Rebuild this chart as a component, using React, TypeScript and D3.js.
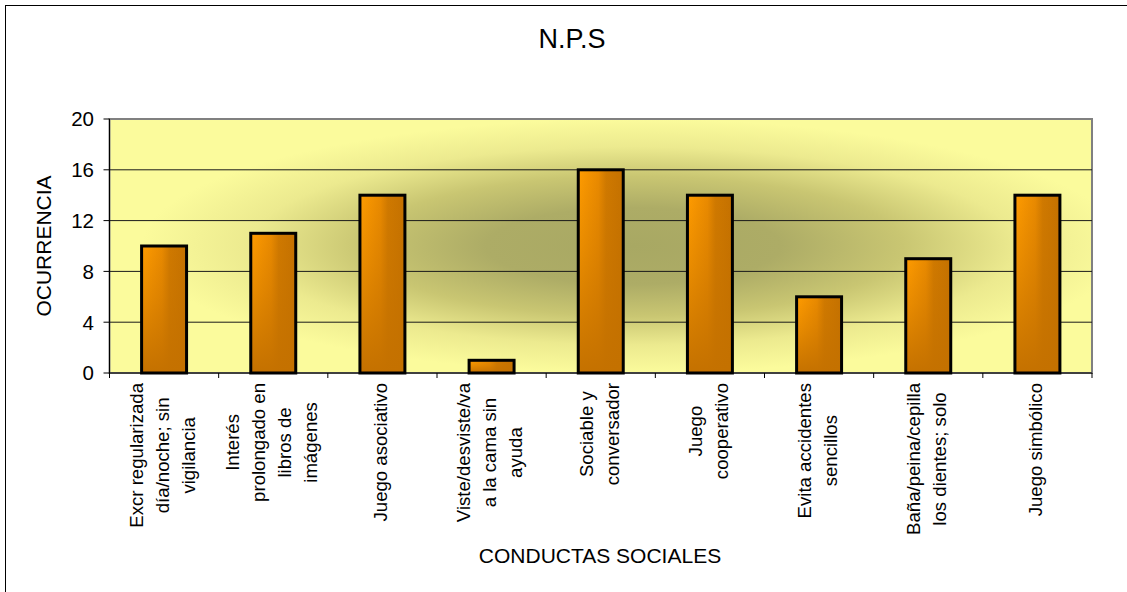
import React, { useMemo } from 'react';
import * as d3 from 'd3';

const title = 'N.P.S';
const yTitle = 'OCURRENCIA';
const xTitle = 'CONDUCTAS SOCIALES';

const categories = [
  ['Excr regularizada', 'día/noche; sin', 'vigilancia'],
  ['Interés', 'prolongado en', 'libros de', 'imágenes'],
  ['Juego asociativo'],
  ['Viste/desviste/va', 'a la cama sin', 'ayuda'],
  ['Sociable y', 'conversador'],
  ['Juego', 'cooperativo'],
  ['Evita accidentes', 'sencillos'],
  ['Baña/peina/cepilla', 'los dientes; solo'],
  ['Juego simbólico'],
];
const values = [10, 11, 14, 1, 16, 14, 6, 9, 14];
const yTicks = [0, 4, 8, 12, 16, 20];

const W = 1127;
const H = 592;
const plot = { left: 109.5, right: 1092, top: 119, bottom: 373 };
const font = "'Liberation Sans', Arial, sans-serif";
const catFont = 18.6;
const lineGap = 26;

export default function App() {
  const x = d3
    .scaleBand<number>()
    .domain(d3.range(values.length))
    .range([plot.left, plot.right])
    .paddingInner(0.588)
    .paddingOuter(0.294);
  const y = d3.scaleLinear().domain([0, 20]).range([plot.bottom, plot.top]);
  const step = x.step();

  // widest line of each label, so the block starts just under the axis
  const widths = useMemo(() => {
    const ctx = document.createElement('canvas').getContext('2d');
    return categories.map((lines) => {
      if (!ctx) return 140;
      ctx.font = `${catFont}px ${font}`;
      return d3.max(lines, (l) => ctx.measureText(l).width) || 0;
    });
  }, []);

  return (
    <svg
      width={W}
      height={H}
      style={{ position: 'absolute', left: 0, top: 0, background: '#fff' }}
      fontFamily={font}
    >
      <defs>
        <radialGradient id="bg" cx="0.533" cy="0.5" r="0.5" fx="0.533" fy="0.5">
          <stop offset="0" stopColor="#a8a863" />
          <stop offset="0.3" stopColor="#adac66" />
          <stop offset="0.55" stopColor="#c9c672" />
          <stop offset="0.78" stopColor="#ecea8f" />
          <stop offset="1" stopColor="#fbfb9c" />
        </radialGradient>
        <linearGradient id="barH" x1="0" y1="0" x2="1" y2="0">
          <stop offset="0" stopColor="#ff9c00" />
          <stop offset="0.45" stopColor="#e98a00" />
          <stop offset="0.62" stopColor="#cf7900" />
          <stop offset="1" stopColor="#c47100" />
        </linearGradient>
        <linearGradient id="barV" x1="0" y1="0" x2="0" y2="1">
          <stop offset="0" stopColor="#c47100" stopOpacity="0" />
          <stop offset="0.4" stopColor="#c47100" stopOpacity="0.35" />
          <stop offset="1" stopColor="#c47100" stopOpacity="1" />
        </linearGradient>
      </defs>

      <rect x={5.5} y={5.5} width={1140} height={600} fill="#fff" stroke="#000" strokeWidth={1} />

      <text x={572} y={48} textAnchor="middle" fontSize={27}>
        {title}
      </text>

      <rect
        x={plot.left}
        y={plot.top}
        width={plot.right - plot.left}
        height={plot.bottom - plot.top}
        fill="url(#bg)"
        stroke="#808080"
        strokeWidth={2}
      />

      {yTicks
        .filter((t) => t > 0 && t < 20)
        .map((t) => (
          <line key={t} x1={plot.left} x2={plot.right} y1={y(t)} y2={y(t)} stroke="#1a1a1a" strokeWidth={1} />
        ))}

      {values.map((v, i) => {
        const bx = x(i)!;
        const by = y(v);
        const bh = y(0) - by;
        return (
          <g key={i}>
            <rect x={bx} y={by} width={x.bandwidth()} height={bh} fill="url(#barH)" />
            <rect x={bx} y={by} width={x.bandwidth()} height={bh} fill="url(#barV)" />
            <rect x={bx} y={by} width={x.bandwidth()} height={bh} fill="none" stroke="#000" strokeWidth={3} />
          </g>
        );
      })}

      {/* axes */}
      <line x1={plot.left} x2={plot.left} y1={plot.top} y2={plot.bottom} stroke="#000" strokeWidth={1} />
      <line x1={plot.left} x2={plot.right} y1={plot.bottom} y2={plot.bottom} stroke="#000" strokeWidth={1} />
      {yTicks.map((t) => (
        <g key={t}>
          <line x1={plot.left - 6} x2={plot.left} y1={y(t)} y2={y(t)} stroke="#000" />
          <text x={94} y={y(t)} dy="0.36em" textAnchor="end" fontSize={20.5}>
            {t}
          </text>
        </g>
      ))}
      {d3.range(values.length + 1).map((i) => (
        <line
          key={i}
          x1={plot.left + i * step}
          x2={plot.left + i * step}
          y1={plot.bottom}
          y2={plot.bottom + 5}
          stroke="#000"
        />
      ))}

      {categories.map((lines, i) => {
        const cx = x(i)! + x.bandwidth() / 2;
        const n = lines.length;
        return (
          <g key={i} transform={`translate(${cx},383) rotate(-90)`}>
            {lines.map((l, j) => (
              <text
                key={j}
                x={-widths[i] / 2}
                y={(j - (n - 1) / 2) * lineGap + 4.75}
                textAnchor="middle"
                fontSize={catFont}
              >
                {l}
              </text>
            ))}
          </g>
        );
      })}

      <text transform={`translate(51,${(plot.top + plot.bottom) / 2}) rotate(-90)`} textAnchor="middle" fontSize={21}>
        {yTitle}
      </text>
      <text x={600} y={562.5} textAnchor="middle" fontSize={21}>
        {xTitle}
      </text>
    </svg>
  );
}
